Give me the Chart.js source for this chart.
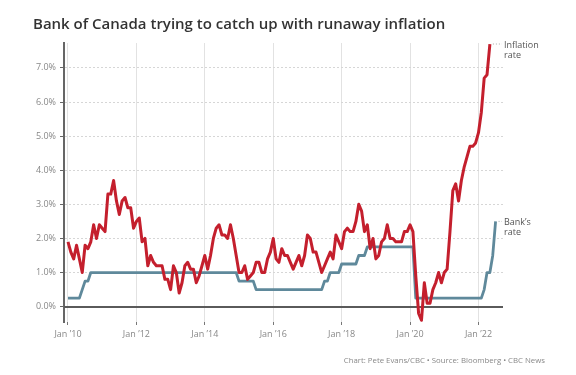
<!DOCTYPE html>
<html>
<head>
<meta charset="utf-8">
<title>Bank of Canada trying to catch up with runaway inflation</title>
<script src="https://cdn.jsdelivr.net/npm/chart.js@4"></script>
<style>
  html, body { margin: 0; padding: 0; background: #fff; }
  #wrap { position: relative; width: 576px; height: 375px; overflow: hidden; }
  #title { position: absolute; left: 33px; top: 13px; line-height: 22px; font: 600 15px "Open Sans", sans-serif; color: #333; white-space: nowrap; }
  #source { position: absolute; right: 31px; top: 355px; line-height: 10px; font: 7.8px "Open Sans", sans-serif; color: #888; white-space: nowrap; }
  #chart { position: absolute; left: 0; top: 0; }
</style>
</head>
<body>
<div id="wrap">
  <canvas id="chart" width="576" height="375"></canvas>
  <div id="title">Bank of Canada trying to catch up with runaway inflation</div>
  <div id="source">Chart: Pete Evans/CBC • Source: Bloomberg • CBC News</div>
</div>
<script>
// monthly values, starting January 2010
const startYear = 2010;

// CPI, year over year (%), Jan 2010 - May 2022
const inflation = [
  1.9, 1.6, 1.4, 1.8, 1.4, 1.0, 1.8, 1.7, 1.9, 2.4, 2.0, 2.4,   // 2010
  2.3, 2.2, 3.3, 3.3, 3.7, 3.1, 2.7, 3.1, 3.2, 2.9, 2.9, 2.3,   // 2011
  2.5, 2.6, 1.9, 2.0, 1.2, 1.5, 1.3, 1.2, 1.2, 1.2, 0.8, 0.8,   // 2012
  0.5, 1.2, 1.0, 0.4, 0.7, 1.2, 1.3, 1.1, 1.1, 0.7, 0.9, 1.2,   // 2013
  1.5, 1.1, 1.5, 2.0, 2.3, 2.4, 2.1, 2.1, 2.0, 2.4, 2.0, 1.5,   // 2014
  1.0, 1.0, 1.2, 0.8, 0.9, 1.0, 1.3, 1.3, 1.0, 1.0, 1.4, 1.6,   // 2015
  2.0, 1.4, 1.3, 1.7, 1.5, 1.5, 1.3, 1.1, 1.3, 1.5, 1.2, 1.5,   // 2016
  2.1, 2.0, 1.6, 1.6, 1.3, 1.0, 1.2, 1.4, 1.6, 1.4, 2.1, 1.9,   // 2017
  1.7, 2.2, 2.3, 2.2, 2.2, 2.5, 3.0, 2.8, 2.2, 2.4, 1.7, 2.0,   // 2018
  1.4, 1.5, 1.9, 2.0, 2.4, 2.0, 2.0, 1.9, 1.9, 1.9, 2.2, 2.2,   // 2019
  2.4, 2.2, 0.9, -0.2, -0.4, 0.7, 0.1, 0.1, 0.5, 0.7, 1.0, 0.7, // 2020
  1.0, 1.1, 2.2, 3.4, 3.6, 3.1, 3.7, 4.1, 4.4, 4.7, 4.7, 4.8,   // 2021
  5.1, 5.7, 6.7, 6.8, 7.7                                       // 2022
];

// Bank of Canada overnight rate (%), Jan 2010 - Jul 2022
const bankRate = [
  0.25, 0.25, 0.25, 0.25, 0.25, 0.5, 0.75, 0.75, 1.0, 1.0, 1.0, 1.0, // 2010
  1.0, 1.0, 1.0, 1.0, 1.0, 1.0, 1.0, 1.0, 1.0, 1.0, 1.0, 1.0,         // 2011
  1.0, 1.0, 1.0, 1.0, 1.0, 1.0, 1.0, 1.0, 1.0, 1.0, 1.0, 1.0,         // 2012
  1.0, 1.0, 1.0, 1.0, 1.0, 1.0, 1.0, 1.0, 1.0, 1.0, 1.0, 1.0,         // 2013
  1.0, 1.0, 1.0, 1.0, 1.0, 1.0, 1.0, 1.0, 1.0, 1.0, 1.0, 1.0,         // 2014
  0.75, 0.75, 0.75, 0.75, 0.75, 0.75, 0.5, 0.5, 0.5, 0.5, 0.5, 0.5,   // 2015
  0.5, 0.5, 0.5, 0.5, 0.5, 0.5, 0.5, 0.5, 0.5, 0.5, 0.5, 0.5,         // 2016
  0.5, 0.5, 0.5, 0.5, 0.5, 0.5, 0.75, 0.75, 1.0, 1.0, 1.0, 1.0,       // 2017
  1.25, 1.25, 1.25, 1.25, 1.25, 1.25, 1.5, 1.5, 1.5, 1.75, 1.75, 1.75, // 2018
  1.75, 1.75, 1.75, 1.75, 1.75, 1.75, 1.75, 1.75, 1.75, 1.75, 1.75, 1.75, // 2019
  1.75, 1.75, 0.25, 0.25, 0.25, 0.25, 0.25, 0.25, 0.25, 0.25, 0.25, 0.25, // 2020
  0.25, 0.25, 0.25, 0.25, 0.25, 0.25, 0.25, 0.25, 0.25, 0.25, 0.25, 0.25, // 2021
  0.25, 0.25, 0.5, 1.0, 1.0, 1.5, 2.5                                 // 2022
];

const xTickMonths = [0, 24, 48, 72, 96, 120, 144];
const yTickValues = [0, 1, 2, 3, 4, 5, 6, 7];
const seriesNames = [['Inflation', 'rate'], ['Bank\u2019s', 'rate']];

const toPoints = arr => arr.map((v, i) => ({ x: i, y: v }));

// zero line drawn solid on top of the dotted grid
const zeroLine = {
  id: 'zeroLine',
  beforeDatasetsDraw(chart) {
    const { ctx, chartArea, scales } = chart;
    const y = Math.round(scales.y.getPixelForValue(0));
    ctx.save();
    ctx.strokeStyle = '#5a5a5a';
    ctx.lineWidth = 2;
    ctx.beginPath();
    ctx.moveTo(chartArea.left, y);
    ctx.lineTo(chartArea.right, y);
    ctx.stroke();
    ctx.restore();
  }
};

// names at the end of each line
const endLabels = {
  id: 'endLabels',
  afterDatasetsDraw(chart) {
    const { ctx, chartArea } = chart;
    ctx.save();
    ctx.font = '9px "Open Sans"';
    ctx.fillStyle = '#555';
    ctx.textBaseline = 'middle';
    chart.data.datasets.forEach((ds, i) => {
      const pts = chart.getDatasetMeta(i).data;
      const last = pts[pts.length - 1];
      const tx = chartArea.right + 1;
      ctx.strokeStyle = '#aaa';
      ctx.lineWidth = 1;
      ctx.setLineDash([1, 2]);
      ctx.beginPath();
      ctx.moveTo(last.x + 3, last.y);
      ctx.lineTo(tx - 2, last.y);
      ctx.stroke();
      ctx.setLineDash([]);
      seriesNames[i].forEach((line, j) => {
        ctx.fillText(line, tx, last.y + 1.5 + j * 9.5);
      });
    });
    ctx.restore();
  }
};

const ctx = document.getElementById('chart').getContext('2d');
new Chart(ctx, {
  type: 'line',
  data: {
    datasets: [
      {
        label: 'Inflation rate',
        data: toPoints(inflation),
        borderColor: '#c41f2d',
        borderWidth: 3,
        pointRadius: 0,
        tension: 0,
        borderJoinStyle: 'round'
      },
      {
        label: 'Bank\u2019s rate',
        data: toPoints(bankRate),
        borderColor: '#5f899b',
        borderWidth: 2.8,
        pointRadius: 0,
        tension: 0,
        borderJoinStyle: 'round'
      }
    ]
  },
  options: {
    responsive: false,
    animation: false,
    layout: { padding: { top: 43, right: 73, bottom: 0, left: 0 } },
    plugins: {
      legend: { display: false },
      tooltip: { enabled: false }
    },
    scales: {
      x: {
        type: 'linear',
        min: -1.4,
        max: 152.6,
        afterBuildTicks: scale => { scale.ticks = xTickMonths.map(v => ({ value: v })); },
        afterFit: scale => { scale.height = 53; },
        ticks: {
          callback: v => 'Jan \u2019' + String(startYear + v / 12).slice(2),
          font: { family: 'Open Sans', size: 9 },
          color: '#888',
          padding: 4,
          maxRotation: 0,
          autoSkip: false
        },
        grid: { color: '#e2e2e2', lineWidth: 1, tickLength: 3, tickColor: '#777' },
        border: { display: false }
      },
      y: {
        min: -0.45,
        max: 7.73,
        afterBuildTicks: scale => { scale.ticks = yTickValues.map(v => ({ value: v })); },
        afterFit: scale => { scale.width = 64; },
        ticks: {
          callback: v => v.toFixed(1) + '%',
          font: { family: 'Open Sans', size: 9 },
          color: '#888',
          padding: 4
        },
        grid: {
          color: c => c.tick && c.tick.value === 0 ? 'rgba(0,0,0,0)' : '#d6d6d6',
          lineWidth: 1,
          tickLength: 4,
          tickColor: '#666'
        },
        border: { color: '#666', width: 2, dash: [2, 2] }
      }
    }
  },
  plugins: [zeroLine, endLabels]
});
</script>
</body>
</html>
